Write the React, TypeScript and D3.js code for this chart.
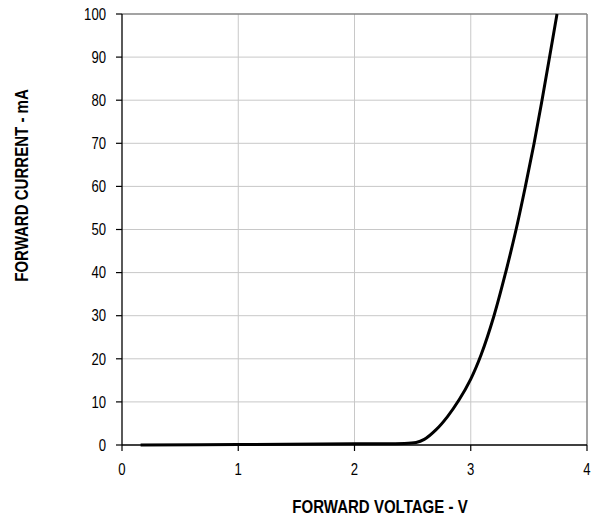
import React from 'react';
import * as d3 from 'd3';

// Forward current vs forward voltage
const voltage = [0.16, 1.0, 2.0, 2.53, 2.6, 2.7, 2.8, 2.9, 3.0, 3.09, 3.2, 3.3, 3.39, 3.47, 3.545, 3.613, 3.678, 3.742];
const current = [0, 0.1, 0.3, 0.6, 1.3, 3.5, 6.6, 10.5, 15.3, 21, 30, 40, 50, 60, 70, 80, 90, 100];

const xTicks = [0, 1, 2, 3, 4];
const yTicks = [0, 10, 20, 30, 40, 50, 60, 70, 80, 90, 100];

const W = 600;
const H = 519;
const margin = { top: 14, right: 13, bottom: 74, left: 122 };
const font = "'Liberation Sans', Arial, sans-serif";
// the reference uses a narrow face; squeeze the regular one horizontally
const narrow = 0.82;

export default function App(): React.ReactElement {
  const x = d3.scaleLinear().domain([0, 4]).range([margin.left, W - margin.right]);
  const y = d3.scaleLinear().domain([0, 100]).range([H - margin.bottom, margin.top]);

  const line = d3.line<number>()
    .x((_, i) => x(voltage[i]))
    .y((d) => y(d))
    .curve(d3.curveCatmullRom.alpha(0.5));

  const x0 = x(0);
  const x1 = x(4);
  const y0 = y(0);
  const y1 = y(100);

  return (
    <>
      <style>{'body{margin:0}'}</style>
      <svg width={W} height={H} style={{ display: 'block', fontFamily: font }}>
        <rect width={W} height={H} fill="#fff" />

        {/* grid */}
        {xTicks.slice(1, -1).map((t) => (
          <line key={`gx${t}`} x1={x(t)} x2={x(t)} y1={y1} y2={y0} stroke="#c8c8c8" strokeWidth={1} />
        ))}
        {yTicks.slice(1, -1).map((t) => (
          <line key={`gy${t}`} x1={x0} x2={x1} y1={y(t)} y2={y(t)} stroke="#c8c8c8" strokeWidth={1} />
        ))}

        {/* frame: top and right in gray */}
        <line x1={x0} x2={x1} y1={y1} y2={y1} stroke="#858585" strokeWidth={1.5} />
        <line x1={x1} x2={x1} y1={y1} y2={y0} stroke="#858585" strokeWidth={1.5} />

        {/* axes */}
        <line x1={x0} x2={x1} y1={y0} y2={y0} stroke="#000" strokeWidth={1.3} />
        <line x1={x0} x2={x0} y1={y1} y2={y0} stroke="#000" strokeWidth={1.3} />

        {xTicks.map((t) => (
          <g key={`xt${t}`}>
            <line x1={x(t)} x2={x(t)} y1={y0} y2={y0 + 6} stroke="#000" strokeWidth={1.2} />
            <text transform={`translate(${x(t)},${y0 + 30}) scale(${narrow},1)`} textAnchor="middle" fontSize={16} fill="#000">{t}</text>
          </g>
        ))}
        {yTicks.map((t) => (
          <g key={`yt${t}`}>
            <line x1={x0 - 6} x2={x0} y1={y(t)} y2={y(t)} stroke="#000" strokeWidth={1.2} />
            <text transform={`translate(${x0 - 16},${y(t)}) scale(${narrow},1)`} dy="0.36em" textAnchor="end" fontSize={16} fill="#000">{t}</text>
          </g>
        ))}

        {/* curve */}
        <path d={line(current) ?? ''} fill="none" stroke="#000" strokeWidth={3} strokeLinejoin="round" />

        {/* titles */}
        <text transform={`translate(380,512.5) scale(0.835,1)`} textAnchor="middle" fontSize={18} fontWeight="bold" fill="#000">
          FORWARD VOLTAGE - V
        </text>
        <text transform="translate(27.5,185.5) rotate(-90) scale(0.835,1)" textAnchor="middle" fontSize={18} fontWeight="bold" fill="#000">
          FORWARD CURRENT - mA
        </text>
      </svg>
    </>
  );
}
